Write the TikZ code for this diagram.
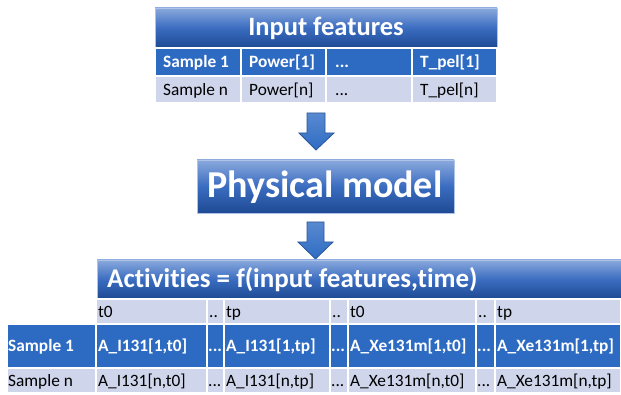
\documentclass[tikz,border=0pt]{standalone}
\usepackage{fontspec}
\setmainfont{Carlito}[Ligatures=NoCommon]
\definecolor{hdtop}{HTML}{8AA9DD}
\definecolor{hdmid}{HTML}{3A6CC0}
\definecolor{hdbot}{HTML}{1E4A93}
\definecolor{rowblue}{HTML}{2D6BC3}
\definecolor{rowlav}{HTML}{CFD5EA}
\definecolor{arrfill}{HTML}{2F6CC4}
\definecolor{arrline}{HTML}{2A5699}
\newcommand\mycell[5]{\path[fill=#5, draw=white, line width=1.2pt] (#1,#2) rectangle (#3,#4);}
\begin{document}
\begin{tikzpicture}[x=1pt,y=-1pt,
  hdr/.style={top color=hdtop, bottom color=hdbot, middle color=hdmid, draw=hdtop!70!white, line width=0.6pt},
  hdtext/.style={text=white, font=\bfseries\fontsize{26.5}{26.5}\selectfont, inner sep=0pt},
  acttext/.style={text=white, font=\bfseries\fontsize{27}{27}\selectfont, inner sep=0pt},
  bigtext/.style={text=white, font=\bfseries\fontsize{38}{38}\selectfont, inner sep=0pt},
  tw/.style={anchor=west, inner sep=0pt, text height=13pt, text depth=2pt, text=white, font=\bfseries\fontsize{17.3}{17.3}\selectfont},
  tk/.style={anchor=west, inner sep=0pt, text height=13pt, text depth=2pt, text=black, font=\fontsize{17.3}{17.3}\selectfont},
  blockarrow/.style={top color=arrfill!80!white, bottom color=arrfill, draw=arrline, line width=0.8pt, line join=miter}
]
\useasboundingbox (0,0) rectangle (621,395);

% ---------- Input features table ----------
\path[hdr] (155,8) rectangle (497,48);
\node[hdtext] (inhead) at (326,28) {Input features};
\mycell{155}{48}{241}{76}{rowblue}
\mycell{241}{48}{326}{76}{rowblue}
\mycell{326}{48}{412}{76}{rowblue}
\mycell{412}{48}{497}{76}{rowblue}
\mycell{155}{76}{241}{103}{rowlav}
\mycell{241}{76}{326}{103}{rowlav}
\mycell{326}{76}{412}{103}{rowlav}
\mycell{412}{76}{497}{103}{rowlav}
\node[tw] (i11) at (163,62) {Sample 1};
\node[tw] (i12) at (249,62) {Power[1]};
\node[tw] (i13) at (335,62) {{.}{.}{.}};
\node[tw] (i14) at (420,62) {T\_pel[1]};
\node[tk] (i21) at (163,90) {Sample n};
\node[tk] (i22) at (249,90) {Power[n]};
\node[tk] (i23) at (335,90) {{.}{.}{.}};
\node[tk] (i24) at (420,90) {T\_pel[n]};

% ---------- arrow 1 ----------
\path[blockarrow] (307,113) -- (325,113) -- (325,133) -- (334,133) -- (316,150) -- (299,133) -- (307,133) -- cycle;

% ---------- Physical model ----------
\path[hdr] (197,160) rectangle (454,213);
\node[bigtext] (phys) at (325,187) {Physical model};

% ---------- arrow 2 ----------
\path[blockarrow] (307,222) -- (324,222) -- (324,242) -- (333,242) -- (315.5,259) -- (298,242) -- (307,242) -- cycle;

% ---------- Activities table ----------
\path[hdr] (97,260) rectangle (621,299);
\node[acttext, anchor=west] (acthead) at (107,280) {Activities = f(input features,time)};

% t row
\mycell{96}{299}{207}{324}{rowlav}
\mycell{207}{299}{224}{324}{rowlav}
\mycell{224}{299}{330}{324}{rowlav}
\mycell{330}{299}{348}{324}{rowlav}
\mycell{348}{299}{476}{324}{rowlav}
\mycell{476}{299}{495}{324}{rowlav}
\mycell{495}{299}{621}{324}{rowlav}
% sample 1 row
\mycell{7}{324}{96}{368}{rowblue}
\mycell{96}{324}{207}{368}{rowblue}
\mycell{207}{324}{224}{368}{rowblue}
\mycell{224}{324}{330}{368}{rowblue}
\mycell{330}{324}{348}{368}{rowblue}
\mycell{348}{324}{476}{368}{rowblue}
\mycell{476}{324}{495}{368}{rowblue}
\mycell{495}{324}{621}{368}{rowblue}
% sample n row
\mycell{7}{368}{96}{393}{rowlav}
\mycell{96}{368}{207}{393}{rowlav}
\mycell{207}{368}{224}{393}{rowlav}
\mycell{224}{368}{330}{393}{rowlav}
\mycell{330}{368}{348}{393}{rowlav}
\mycell{348}{368}{476}{393}{rowlav}
\mycell{476}{368}{495}{393}{rowlav}
\mycell{495}{368}{621}{393}{rowlav}

\node[tk] (t1) at (98,311.5) {t0};
\node[tk] (t2) at (209,311.5) {{.}{.}};
\node[tk] (t3) at (226,311.5) {tp};
\node[tk] (t4) at (332,311.5) {{.}{.}};
\node[tk] (t5) at (350,311.5) {t0};
\node[tk] (t6) at (478,311.5) {{.}{.}};
\node[tk] (t7) at (497,311.5) {tp};

\node[tw] (a0) at (8,346) {Sample 1};
\node[tw] (a1) at (98,346) {A\_I131[1,t0]};
\node[tw] (a2) at (208,346) {{.}{.}{.}};
\node[tw] (a3) at (226,346) {A\_I131[1,tp]};
\node[tw] (a4) at (331,346) {{.}{.}{.}};
\node[tw] (a5) at (350,346) {A\_Xe131m[1,t0]};
\node[tw] (a6) at (477,346) {{.}{.}{.}};
\node[tw] (a7) at (497,346) {A\_Xe131m[1,tp]};

\node[tk] (b0) at (8,380.5) {Sample n};
\node[tk] (b1) at (98,380.5) {A\_I131[n,t0]};
\node[tk] (b2) at (208,380.5) {{.}{.}{.}};
\node[tk] (b3) at (226,380.5) {A\_I131[n,tp]};
\node[tk] (b4) at (331,380.5) {{.}{.}{.}};
\node[tk] (b5) at (350,380.5) {A\_Xe131m[n,t0]};
\node[tk] (b6) at (477,380.5) {{.}{.}{.}};
\node[tk] (b7) at (497,380.5) {A\_Xe131m[n,tp]};
\end{tikzpicture}
\end{document}
